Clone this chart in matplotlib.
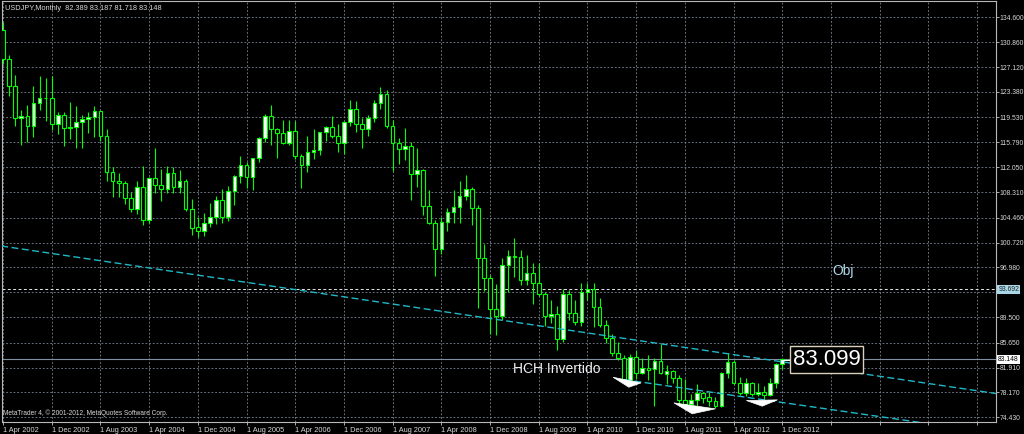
import matplotlib
matplotlib.use("Agg")
import matplotlib.pyplot as plt
import matplotlib.transforms as mtransforms
from matplotlib.patches import Polygon
import numpy as np

# USDJPY monthly candles, 1 Apr 2002 .. 1 Dec 2012
opens = [132.7, 128.4, 124.2, 119.5, 119.8, 118.3, 121.7, 122.4, 122.5,
         118.5, 119.9, 118.0, 118.1, 118.8, 119.3, 119.65, 120.5, 116.8, 111.4, 109.9, 109.6,
         107.4, 105.7, 109.0, 104.1, 110.4, 109.3, 108.7, 111.2, 109.0, 110.0, 105.7, 103.0,
         102.4, 103.6, 104.5, 107.1, 104.6, 108.5, 110.7, 112.4, 110.5, 113.4, 116.5, 119.7,
         117.8, 117.25, 115.7, 117.55, 113.75, 112.45, 114.4, 114.65, 117.3, 118.15, 116.75, 115.65,
         118.9, 120.75, 118.55, 117.75, 119.4, 121.65, 123.05, 118.3, 115.75, 114.75, 115.3, 111.1,
         111.6, 106.2, 103.7, 99.7, 103.85, 105.35, 106.0, 107.75, 108.7, 105.9, 98.4, 95.35,
         90.7, 89.65, 97.3, 98.7, 98.5, 95.1, 96.2, 94.6, 92.9, 89.6, 89.95, 86.2,
         92.9, 90.1, 88.8, 93.3, 93.8, 91.05, 88.25, 86.3, 84.1, 83.3, 80.05, 83.45,
         81.05, 81.85, 81.7, 82.95, 80.95, 81.35, 80.35, 77.0, 76.5, 77.0, 78.05, 77.45,
         76.9, 76.1, 81.05, 82.8, 79.6, 78.05, 79.55, 77.95, 78.3, 77.75, 79.55, 82.389]
highs = [133.9, 128.9, 125.9, 120.7, 121.4, 124.3, 125.7, 125.4, 125.8,
         120.4, 120.3, 121.8, 121.2, 119.9, 120.3, 121.3, 120.6, 117.8, 112.1, 111.2, 110.0,
         108.3, 109.9, 112.3, 110.5, 114.9, 111.8, 112.3, 112.1, 111.6, 110.3, 107.3, 104.6,
         105.1, 106.7, 107.7, 108.7, 109.2, 110.9, 113.7, 112.9, 113.5, 116.6, 120.1, 121.4,
         118.0, 119.2, 119.2, 119.05, 114.1, 116.7, 117.8, 117.4, 118.3, 119.8, 118.5, 119.0,
         122.2, 122.0, 119.4, 119.9, 122.1, 124.15, 123.7, 119.2, 116.4, 117.9, 115.9, 114.9,
         111.8, 108.6, 104.1, 104.6, 105.9, 108.6, 109.9, 110.9, 109.1, 106.4, 100.5, 95.9,
         94.5, 98.4, 99.6, 101.4, 99.6, 98.9, 97.7, 97.7, 93.3, 92.1, 91.1, 93.7,
         93.6, 92.1, 94.6, 94.7, 94.7, 92.4, 89.1, 87.0, 85.8, 83.8, 84.0, 84.55,
         83.3, 83.85, 83.3, 85.5, 82.3, 81.6, 80.8, 80.2, 77.9, 79.5, 78.3, 78.3,
         77.5, 81.2, 84.1, 83.0, 80.55, 80.3, 79.8, 79.6, 79.2, 80.3, 82.65, 83.187]
lows = [127.6, 122.7, 118.2, 115.4, 115.9, 116.6, 120.7, 119.0, 117.7,
        117.1, 115.3, 116.3, 114.9, 114.9, 117.2, 116.6, 116.0, 110.0, 107.6, 107.6, 106.5,
        105.3, 105.0, 103.3, 103.7, 108.1, 107.0, 108.1, 108.1, 108.1, 105.5, 101.9, 101.6,
        101.7, 103.1, 103.5, 103.7, 104.0, 106.4, 109.7, 108.9, 108.6, 112.8, 115.8, 115.4,
        113.4, 115.5, 115.4, 113.35, 108.9, 111.3, 113.3, 113.9, 116.0, 116.4, 114.4, 114.1,
        118.2, 117.4, 114.9, 116.7, 118.9, 120.8, 117.9, 111.5, 112.6, 113.1, 107.1, 109.1,
        104.9, 103.5, 95.7, 99.0, 102.4, 103.6, 103.6, 107.1, 103.4, 90.9, 93.5, 87.0,
        86.8, 89.1, 93.3, 95.5, 94.4, 94.4, 91.5, 92.6, 88.2, 88.6, 84.6, 85.8,
        89.1, 88.3, 88.1, 92.0, 88.0, 88.0, 85.6, 83.6, 83.0, 79.8, 80.0, 80.2,
        80.9, 80.05, 76.2, 81.0, 79.5, 79.6, 76.5, 75.9, 75.9, 75.6, 76.6, 76.1,
        75.9, 76.0, 80.3, 79.5, 77.75, 77.65, 77.6, 77.7, 77.1, 77.6, 78.8, 81.718]
closes = [128.4, 124.2, 119.5, 119.8, 118.3, 121.7, 122.4, 122.5, 118.5,
          119.9, 118.0, 118.1, 118.8, 119.3, 119.65, 120.5, 116.8, 111.4, 109.9, 109.6, 107.4,
          105.7, 109.0, 104.1, 110.4, 109.3, 108.7, 111.2, 109.0, 110.0, 105.7, 102.9, 102.4,
          103.6, 104.5, 107.1, 104.6, 108.5, 110.7, 112.4, 110.5, 113.4, 116.5, 119.7, 117.8,
          117.25, 115.7, 117.55, 113.75, 112.45, 114.4, 114.65, 117.3, 118.15, 116.75, 115.65, 118.9,
          120.75, 118.55, 117.75, 119.4, 121.65, 123.05, 118.3, 115.75, 114.75, 115.3, 111.1, 111.6,
          106.2, 103.7, 99.7, 103.85, 105.35, 106.0, 107.75, 108.7, 105.9, 98.4, 95.35, 90.7,
          89.65, 97.3, 98.7, 98.5, 95.1, 96.2, 94.6, 92.9, 89.6, 89.95, 86.2, 93.0,
          90.1, 88.8, 93.25, 93.7, 91.05, 88.25, 86.3, 84.1, 83.3, 80.05, 83.45, 81.05,
          81.9, 81.55, 82.95, 81.05, 81.35, 80.35, 77.0, 76.5, 77.0, 78.05, 77.4, 76.9,
          76.1, 81.05, 82.8, 79.6, 78.05, 79.55, 77.95, 78.3, 77.75, 79.55, 82.39, 83.148]

date_labels = ['1 Apr 2002', '1 Dec 2002', '1 Aug 2003', '1 Apr 2004', '1 Dec 2004',
               '1 Aug 2005', '1 Apr 2006', '1 Dec 2006', '1 Aug 2007', '1 Apr 2008',
               '1 Dec 2008', '1 Aug 2009', '1 Apr 2010', '1 Dec 2010', '1 Aug 2011',
               '1 Apr 2012', '1 Dec 2012']
price_labels = [134.600, 130.860, 127.120, 123.380, 119.530, 115.790, 112.050, 108.310,
                104.460, 100.720, 96.980, 93.240, 89.500, 85.650, 81.910, 78.170, 74.430]
hidden_price = 93.240  # covered by the target label on the price scale

title = 'USDJPY,Monthly  82.389 83.187 81.718 83.148'
bid_price = 83.148
target_price = 93.692
label_price = 83.099

# channel lines drawn on the chart: (month index, price) end points
upper_line = ([-0.3, 163.1], [100.2, 78.0])
lower_line = ([102.0, 163.1], [80.1, 72.0])

# white triangles marking the inverted head and shoulders
left_shoulder = [(100.2, 80.45), (104.8, 79.6), (102.8, 78.95)]
head = [(110.2, 76.6), (117.0, 75.7), (113.2, 74.95)]
right_shoulder = [(122.1, 76.95), (127.2, 77.05), (124.7, 76.1)]

assert len(opens) == len(highs) == len(lows) == len(closes) == 129

GREEN = '#00ff00'
TXT = '#d8d8d8'
plt.rcParams['font.family'] = ['Liberation Sans', 'DejaVu Sans']

fig = plt.figure(figsize=(10.24, 4.34), dpi=100, facecolor='black')
ax = fig.add_axes([1.5 / 1024, 12 / 434, 994.2 / 1024, 421 / 434], facecolor='black')

x = np.arange(len(opens))
o = np.array(opens)
h = np.array(highs)
l = np.array(lows)
c = np.array(closes)
up = c >= o

ax.vlines(x, l, h, color=GREEN, linewidth=0.8, zorder=3)
ax.bar(x, np.abs(c - o), bottom=np.minimum(o, c), width=0.6,
       color=np.where(up, 'white', 'black'), edgecolor=GREEN, linewidth=0.8, zorder=4)

# horizontal lines
ax.axhline(bid_price, color='#8090a0', linewidth=0.8, zorder=2)
ax.axhline(target_price, color='#e8e8e8', linewidth=0.7, linestyle=(0, (3, 2.5)), zorder=2)

# channel
ax.plot(*upper_line, color='#20b8c8', linewidth=1.0, linestyle=(0, (5, 2.5)), zorder=5)
ax.plot(*lower_line, color='#20b8c8', linewidth=1.0, linestyle=(0, (5, 2.5)), zorder=5)

for tri in (left_shoulder, head, right_shoulder):
    ax.add_patch(Polygon(tri, closed=True, facecolor='white', edgecolor='white',
                         linewidth=0.5, zorder=6))

ax.text(83.8, 81.75, 'HCH Invertido', color='#f0f0f0', fontsize=10, va='center', zorder=7)
ax.text(136.2, 96.4, 'Obj', color='#b0d8e8', fontsize=10, va='center', zorder=7)

# last price label
ax.plot([128.3, 129.4], [label_price, label_price], color='white', linewidth=0.8, zorder=6)
ax.text(129.75, label_price, '83.099', color='white', fontsize=16, va='center', zorder=7,
        bbox=dict(facecolor='black', edgecolor='#d8d0b8', boxstyle='square,pad=0.12', linewidth=1))

ax.set_xlim(-0.25, 163.05)
ax.set_ylim(73.72, 137.05)

xt = list(range(0, 161, 8))
ax.set_xticks(xt)
ax.set_xticklabels(date_labels + [''] * (len(xt) - len(date_labels)))
for lbl in ax.get_xticklabels():
    lbl.set_horizontalalignment('left')
ax.yaxis.tick_right()
ax.set_yticks(price_labels)
ax.set_yticklabels(['' if p == hidden_price else '%.3f' % p for p in price_labels])

ax.tick_params(axis='both', colors='#c8c8c8', labelcolor=TXT, length=2, width=0.6)
ax.tick_params(axis='x', pad=1.5, labelsize=5.3)
ax.tick_params(axis='y', pad=1, labelsize=4.9)

ax.grid(True, color='#788492', linestyle=(0, (2.2, 2.2)), linewidth=0.6, zorder=1)
ax.set_axisbelow(True)
for sp in ax.spines.values():
    sp.set_color('#b8b8b8')
    sp.set_linewidth(0.8)

trans = mtransforms.blended_transform_factory(ax.transAxes, ax.transData)
ax.text(1.0025, target_price, '%.3f' % target_price, transform=trans, fontsize=4.9,
        color='#202020', va='center', clip_on=False, zorder=10,
        bbox=dict(facecolor='#a8d8e8', edgecolor='none', pad=0.8))
ax.text(1.0025, bid_price, '%.3f' % bid_price, transform=trans, fontsize=4.9,
        color='black', va='center', clip_on=False, zorder=10,
        bbox=dict(facecolor='white', edgecolor='none', pad=0.8))

fig.text(5 / 1024, 1 - 8 / 434, title, color=TXT, fontsize=5.3, va='center')
fig.text(3 / 1024, 1 - 413 / 434, 'MetaTrader 4, \u00a9 2001-2012, MetaQuotes Software Corp.',
         color=TXT, fontsize=4.7, va='center')

fig.savefig('out.png', dpi=100, facecolor='black')
